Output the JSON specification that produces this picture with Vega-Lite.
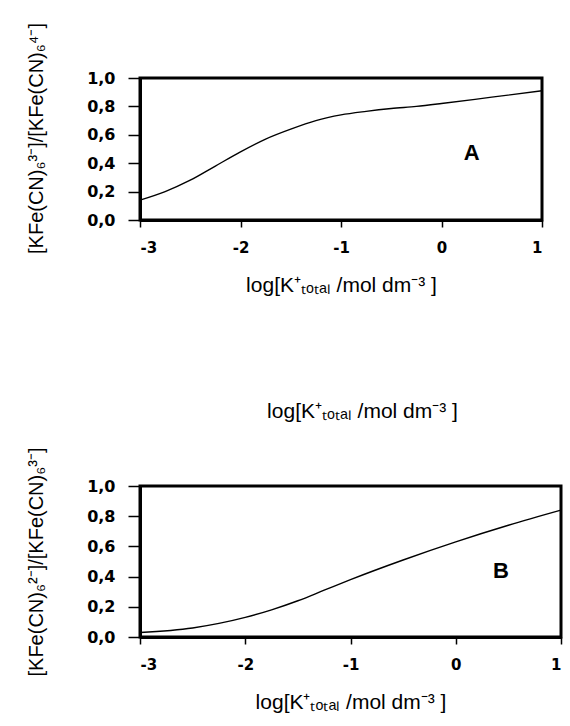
{
  "$schema": "https://vega.github.io/schema/vega-lite/v6.json",
  "background": "white",
  "padding": {"left": 25, "top": 21, "right": 5, "bottom": 5},
  "config": {
    "font": "Liberation Sans",
    "view": {"stroke": "black", "strokeWidth": 3},
    "concat": {"spacing": 102},
    "axis": {
      "grid": false,
      "domainColor": "black",
      "domainWidth": 3,
      "tickColor": "black",
      "tickWidth": 1.5,
      "labelColor": "black",
      "labelFont": "DejaVu Sans",
      "labelFontWeight": "bold",
      "labelFontSize": 15,
      "labelOverlap": false,
      "titleColor": "black",
      "titleFont": "Liberation Sans",
      "titleFontWeight": "normal",
      "titleFontSize": 21
    }
  },
  "vconcat": [
    {
      "width": 402,
      "height": 142,
      "layer": [
        {
          "data": {"values": [
            {"x": -3, "y": 0.14}, {"x": -2.75, "y": 0.2}, {"x": -2.5, "y": 0.28},
            {"x": -2.25, "y": 0.38}, {"x": -2, "y": 0.48}, {"x": -1.75, "y": 0.57},
            {"x": -1.5, "y": 0.64}, {"x": -1.25, "y": 0.7}, {"x": -1, "y": 0.74},
            {"x": -0.75, "y": 0.765}, {"x": -0.5, "y": 0.785}, {"x": -0.25, "y": 0.8},
            {"x": 0, "y": 0.82}, {"x": 0.5, "y": 0.865}, {"x": 1, "y": 0.91}
          ]},
          "mark": {"type": "line", "color": "black", "strokeWidth": 1.4, "interpolate": "monotone"},
          "encoding": {
            "x": {
              "field": "x", "type": "quantitative",
              "scale": {"domain": [-3, 1], "nice": false},
              "axis": {
                "values": [-3, -2, -1, 0, 1], "tickSize": 7, "labelPadding": 13,
                "labelOverlap": false,
                "labelExpr": "'' + datum.value",
                "title": "log[K⁺ₜₒₜₐₗ /mol dm⁻³ ]", "titlePadding": 19
              }
            },
            "y": {
              "field": "y", "type": "quantitative",
              "scale": {"domain": [0, 1], "nice": false},
              "axis": {
                "tickCount": 5, "tickSize": 12, "labelPadding": 13, "labelFontSize": 16,
                "labelOverlap": false, "labelFlush": false,
                "labelExpr": "replace(format(datum.value, '.1f'), '.', ',')",
                "title": "[KFe(CN)₆³⁻]/[KFe(CN)₆⁴⁻]", "titlePadding": 40,
                "titleFontSize": 20, "titleY": 60
              }
            }
          }
        },
        {
          "data": {"values": [{"x": 0.3, "y": 0.47, "label": "A"}]},
          "mark": {"type": "text", "fontSize": 22, "fontWeight": "bold", "color": "black"},
          "encoding": {
            "x": {"field": "x", "type": "quantitative"},
            "y": {"field": "y", "type": "quantitative"},
            "text": {"field": "label"}
          }
        }
      ]
    },
    {
      "width": 421,
      "height": 151,
      "title": {
        "text": "log[K⁺ₜₒₜₐₗ /mol dm⁻³ ]",
        "fontSize": 21, "fontWeight": "normal", "color": "black",
        "font": "Liberation Sans", "anchor": "middle", "offset": 25, "dx": 12
      },
      "layer": [
        {
          "data": {"values": [
            {"x": -3, "y": 0.03}, {"x": -2.5, "y": 0.06}, {"x": -2.25, "y": 0.09},
            {"x": -2, "y": 0.13}, {"x": -1.75, "y": 0.18}, {"x": -1.5, "y": 0.24},
            {"x": -1.25, "y": 0.31}, {"x": -1, "y": 0.38}, {"x": -0.5, "y": 0.51},
            {"x": 0, "y": 0.63}, {"x": 0.5, "y": 0.74}, {"x": 1, "y": 0.84}
          ]},
          "mark": {"type": "line", "color": "black", "strokeWidth": 1.4, "interpolate": "monotone"},
          "encoding": {
            "x": {
              "field": "x", "type": "quantitative",
              "scale": {"domain": [-3, 1], "nice": false},
              "axis": {
                "values": [-3, -2, -1, 0, 1], "tickSize": 7, "labelPadding": 13,
                "labelOverlap": false,
                "labelExpr": "'' + datum.value",
                "title": "log[K⁺ₜₒₜₐₗ /mol dm⁻³ ]", "titlePadding": 19
              }
            },
            "y": {
              "field": "y", "type": "quantitative",
              "scale": {"domain": [0, 1], "nice": false},
              "axis": {
                "tickCount": 5, "tickSize": 12, "labelPadding": 13, "labelFontSize": 16,
                "labelOverlap": false, "labelFlush": false,
                "labelExpr": "replace(format(datum.value, '.1f'), '.', ',')",
                "title": "[KFe(CN)₆²⁻]/[KFe(CN)₆³⁻]", "titlePadding": 40,
                "titleFontSize": 20
              }
            }
          }
        },
        {
          "data": {"values": [{"x": 0.43, "y": 0.44, "label": "B"}]},
          "mark": {"type": "text", "fontSize": 22, "fontWeight": "bold", "color": "black"},
          "encoding": {
            "x": {"field": "x", "type": "quantitative"},
            "y": {"field": "y", "type": "quantitative"},
            "text": {"field": "label"}
          }
        }
      ]
    }
  ]
}
